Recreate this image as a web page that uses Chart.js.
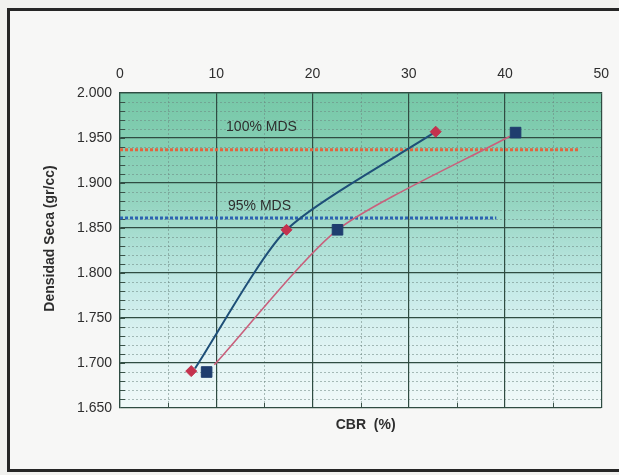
<!DOCTYPE html>
<html>
<head>
<meta charset="utf-8">
<script src="https://cdn.jsdelivr.net/npm/chart.js@4.4.1/dist/chart.umd.min.js"></script>
<style>
  html, body { margin: 0; padding: 0; background: #f1f1ef; width: 619px; height: 475px; overflow: hidden; }
  .frame { position: absolute; left: 7px; top: 8px; width: 640px; height: 458px; border: 3px solid #262626; background: #f7f7f6; }
  #chart { position: absolute; left: 0; top: 0; }
</style>
</head>
<body>
<div class="frame"></div>
<canvas id="chart" width="619" height="475"></canvas>
<script>
//Axis ticks
const cbrTicks = [0, 10, 20, 30, 40, 50];
const densTicks = [1.65, 1.7, 1.75, 1.8, 1.85, 1.9, 1.95, 2.0];

//Curve through the diamonds (blue line)
const curveA_cbr = [7.8, 17.3, 32.8];
const curveA_dens = [1.694, 1.848, 1.957];
//Curve through the squares (pink line)
const curveB_cbr = [9.8, 22.6, 40.5];
const curveB_dens = [1.698, 1.848, 1.952];

//Markers
const diamond_cbr = [7.4, 17.3, 32.8];
const diamond_dens = [1.691, 1.848, 1.957];
const square_cbr = [9.0, 22.6, 41.1];
const square_dens = [1.690, 1.848, 1.956];

//MDS reference lines
const mdsLabels = ['100% MDS', '95% MDS'];
const mdsDens = [1.937, 1.861];
const mdsEnd = [47.7, 39.1];

const font = 'Liberation Sans, Arial, sans-serif';
const toPoints = (xs, ys) => xs.map((x, i) => ({ x: x, y: ys[i] }));

//Background gradient, minor grid and small ticks
const backgroundPlugin = {
  id: 'background',
  beforeDraw(chart) {
    const { ctx, chartArea: a, scales } = chart;
    const g = ctx.createLinearGradient(0, a.top, 0, a.bottom);
    g.addColorStop(0, '#76c8a7');
    g.addColorStop(0.35, '#95d5c1');
    g.addColorStop(0.6, '#c2e9e6');
    g.addColorStop(0.8, '#dff3f3');
    g.addColorStop(1, '#f1f9f9');
    ctx.save();
    ctx.fillStyle = g;
    ctx.fillRect(a.left, a.top, a.right - a.left, a.bottom - a.top);

    ctx.strokeStyle = 'rgba(110,135,130,0.55)';
    ctx.lineWidth = 1;
    ctx.setLineDash([2, 2]);
    for (let v = 1.66; v < 2.0; v += 0.01) {
      if (Math.abs(v * 20 - Math.round(v * 20)) < 0.01) continue;
      const y = Math.round(scales.y.getPixelForValue(v)) + 0.5;
      ctx.beginPath();
      ctx.moveTo(a.left, y);
      ctx.lineTo(a.right, y);
      ctx.stroke();
    }
    for (let v = 5; v < 50; v += 10) {
      const x = Math.round(scales.x.getPixelForValue(v)) + 0.5;
      ctx.beginPath();
      ctx.moveTo(x, a.top);
      ctx.lineTo(x, a.bottom);
      ctx.stroke();
    }

    //small ticks inside the axes
    ctx.setLineDash([]);
    ctx.strokeStyle = '#3a5248';
    for (let v = 1.66; v < 2.0; v += 0.01) {
      const y = Math.round(scales.y.getPixelForValue(v)) + 0.5;
      ctx.beginPath();
      ctx.moveTo(a.left, y);
      ctx.lineTo(a.left + 5, y);
      ctx.stroke();
    }
    for (let v = 5; v < 50; v += 10) {
      const x = Math.round(scales.x.getPixelForValue(v)) + 0.5;
      ctx.beginPath();
      ctx.moveTo(x, a.bottom);
      ctx.lineTo(x, a.bottom - 5);
      ctx.stroke();
    }
    ctx.restore();
  },
  afterDraw(chart) {
    const { ctx, chartArea: a, scales } = chart;
    ctx.save();
    ctx.fillStyle = '#2e2e2e';
    ctx.textAlign = 'center';
    ctx.textBaseline = 'middle';
    //MDS labels
    ctx.font = '14px ' + font;
    ctx.fillText(mdsLabels[0], scales.x.getPixelForValue(14.7), scales.y.getPixelForValue(1.962));
    ctx.fillText(mdsLabels[1], scales.x.getPixelForValue(14.5), scales.y.getPixelForValue(1.874));
    //axis titles
    ctx.font = 'bold 14px ' + font;
    ctx.fillText('CBR  (%)', (a.left + a.right) / 2 + 5, a.bottom + 17);
    ctx.translate(a.left - 70, (a.top + a.bottom) / 2 - 12);
    ctx.rotate(-Math.PI / 2);
    ctx.fillText('Densidad Seca (gr/cc)', 0, 0);
    ctx.restore();
  },
};

const chart = document.querySelector('#chart').getContext('2d');
const myChart = new Chart(chart, {
  type: 'scatter',
  data: {
    datasets: [
      {
        label: 'diamonds',
        data: toPoints(diamond_cbr, diamond_dens),
        pointStyle: 'rectRot',
        pointRadius: 5.5,
        pointBackgroundColor: '#c4324e',
        pointBorderColor: '#c4324e',
        showLine: false,
      },
      {
        label: 'squares',
        data: toPoints(square_cbr, square_dens),
        pointStyle: 'rect',
        pointRadius: 7.5,
        pointBackgroundColor: '#1f3d6e',
        pointBorderColor: '#1f3d6e',
        showLine: false,
      },
      {
        label: 'curve A',
        data: toPoints(curveA_cbr, curveA_dens),
        showLine: true,
        tension: 0.22,
        borderColor: '#1e4f78',
        borderWidth: 2,
        pointRadius: 0,
      },
      {
        label: 'curve B',
        data: toPoints(curveB_cbr, curveB_dens),
        showLine: true,
        tension: 0.22,
        borderColor: '#c9607c',
        borderWidth: 1.6,
        pointRadius: 0,
      },
      {
        label: '100% MDS',
        data: [{ x: 0, y: mdsDens[0] }, { x: mdsEnd[0], y: mdsDens[0] }],
        showLine: true,
        borderColor: '#e2643e',
        borderWidth: 3,
        borderDash: [3, 2],
        pointRadius: 0,
      },
      {
        label: '95% MDS',
        data: [{ x: 0, y: mdsDens[1] }, { x: mdsEnd[1], y: mdsDens[1] }],
        showLine: true,
        borderColor: '#2c63b2',
        borderWidth: 3,
        borderDash: [3, 2],
        pointRadius: 0,
      },
    ],
  },
  options: {
    responsive: false,
    animation: false,
    layout: {
      padding: { left: 60, top: 63, right: 17, bottom: 67 },
    },
    plugins: {
      legend: { display: false },
      tooltip: { enabled: false },
    },
    scales: {
      x: {
        type: 'linear',
        position: 'top',
        min: 0,
        max: 50,
        afterBuildTicks: (scale) => {
          scale.ticks = cbrTicks.map((v) => ({ value: v }));
        },
        afterFit: (scale) => {
          scale.height = 30;
        },
        grid: { color: '#2f4c42', lineWidth: 1.2, drawTicks: false },
        border: { color: '#2f4c42', width: 1.2 },
        ticks: {
          padding: 10,
          color: '#2e2e2e',
          font: { family: font, size: 14 },
          maxRotation: 0,
        },
      },
      y: {
        type: 'linear',
        min: 1.65,
        max: 2.0,
        afterBuildTicks: (scale) => {
          scale.ticks = densTicks.map((v) => ({ value: v }));
        },
        afterFit: (scale) => {
          scale.width = 60;
        },
        grid: { color: '#2f4c42', lineWidth: 1.2, drawTicks: false },
        border: { color: '#2f4c42', width: 1.2 },
        ticks: {
          padding: 8,
          color: '#2e2e2e',
          font: { family: font, size: 14 },
          callback: (v) => Number(v).toFixed(3),
        },
      },
    },
  },
  plugins: [backgroundPlugin],
});
</script>
</body>
</html>
